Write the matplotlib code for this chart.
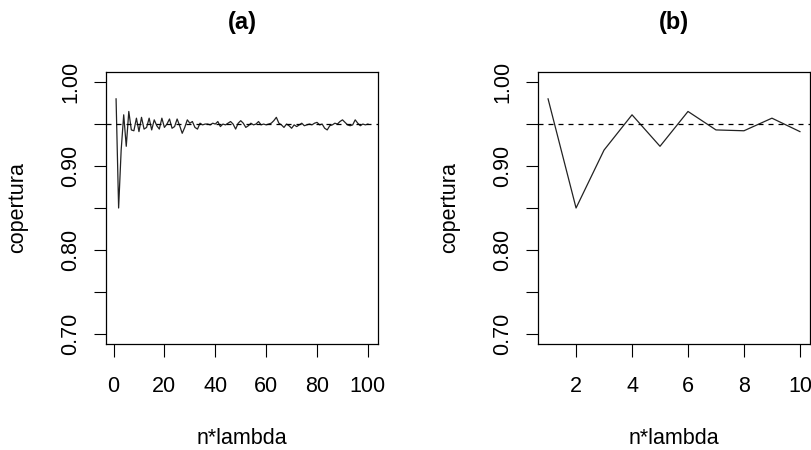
import matplotlib
matplotlib.use("Agg")
import matplotlib.pyplot as plt

n_a = list(range(1, 101))
cov_a = [0.980, 0.850, 0.919, 0.961, 0.9235, 0.965, 0.943, 0.942, 0.957, 0.941,
         0.958, 0.944, 0.946, 0.957, 0.943, 0.955, 0.948, 0.944, 0.957, 0.946,
         0.950, 0.956, 0.945, 0.947, 0.956, 0.948, 0.939, 0.946, 0.955, 0.951,
         0.953, 0.946, 0.944, 0.951, 0.949, 0.950, 0.950, 0.949, 0.951, 0.950,
         0.953, 0.947, 0.950, 0.949, 0.951, 0.953, 0.950, 0.944, 0.951, 0.954,
         0.951, 0.946, 0.948, 0.951, 0.949, 0.950, 0.953, 0.949, 0.950, 0.949,
         0.950, 0.951, 0.954, 0.958, 0.951, 0.949, 0.946, 0.950, 0.948, 0.945,
         0.949, 0.947, 0.949, 0.951, 0.948, 0.949, 0.950, 0.949, 0.951, 0.952,
         0.949, 0.950, 0.945, 0.943, 0.948, 0.949, 0.951, 0.950, 0.953, 0.955,
         0.952, 0.949, 0.948, 0.949, 0.955, 0.951, 0.948, 0.950, 0.949, 0.950]
n_b = n_a[:10]
cov_b = cov_a[:10]

nominal = 0.95
titles = ["(a)", "(b)"]
xlabel = "n*lambda"
ylabel = "copertura"
yticks = [0.70, 0.75, 0.80, 0.85, 0.90, 0.95, 1.00]
ytick_labels = ["0.70", "", "0.80", "", "0.90", "", "1.00"]
xticks_a = [0, 20, 40, 60, 80, 100]
xticks_b = [2, 4, 6, 8, 10]

plt.rcParams['font.family'] = ['Liberation Sans', 'DejaVu Sans']

W, H = 812, 450
fig = plt.figure(figsize=(W / 100, H / 100), dpi=100)

def make_ax(left_px, n, cov, xticks, title):
    ax = fig.add_axes([left_px / W, (H - 344) / H, 272 / W, 272 / H])
    ax.plot(n, cov, color="#222222", lw=0.9)
    ax.axhline(nominal, color="black", lw=0.9, ls=(0, (4, 4)))
    span = n[-1] - n[0]
    ax.set_xlim(n[0] - 0.04 * span, n[-1] + 0.04 * span)
    ax.set_ylim(0.70 - 0.012, 1.00 + 0.012)
    ax.set_yticks(yticks)
    ax.set_yticklabels(ytick_labels, rotation=90, va="center")
    ax.set_xticks(xticks)
    ax.set_xticklabels([str(t) for t in xticks])
    ax.tick_params(axis="x", length=9, width=0.8, pad=14, labelsize=15.5)
    ax.tick_params(axis="y", length=9, width=0.8, pad=9, labelsize=15.5)
    for s in ax.spines.values():
        s.set_linewidth(0.9)
    ax.set_xlabel(xlabel, fontsize=15.5)
    ax.set_ylabel(ylabel, fontsize=15.5)
    ax.xaxis.set_label_coords(0.5, (344 - 428) / 272)
    ax.yaxis.set_label_coords((28 - 106) / 272, 0.5)
    ax.text(0.5, (344 - 22) / 272, title, transform=ax.transAxes,
            ha="center", va="center", fontsize=17, fontweight="bold")
    return ax

make_ax(106, n_a, cov_a, xticks_a, titles[0])
make_ax(538, n_b, cov_b, xticks_b, titles[1])

fig.savefig("out.png", dpi=100)
